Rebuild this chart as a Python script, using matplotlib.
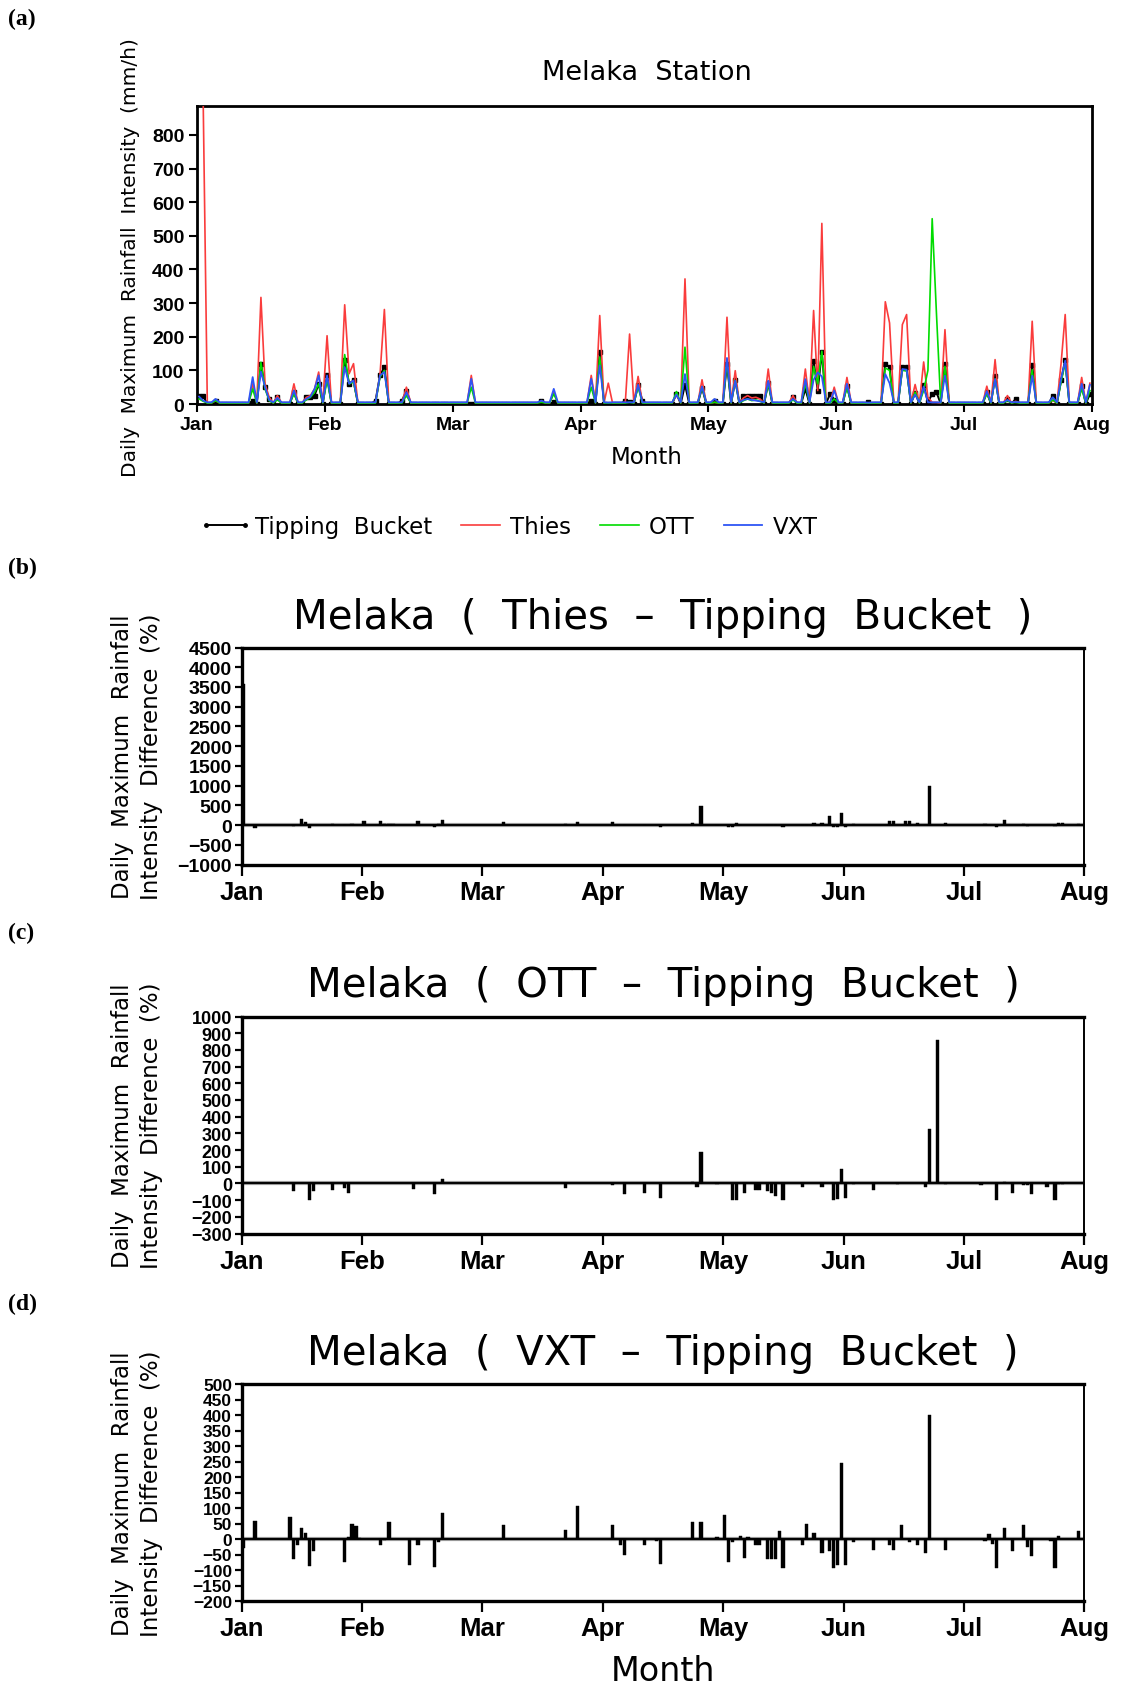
import matplotlib
matplotlib.use("Agg")
import matplotlib.pyplot as plt
import numpy as np
from matplotlib import font_manager
from matplotlib.lines import Line2D

FIG_W, FIG_H = 1123, 1690
DPI = 100

MONTH_LABELS = ["Jan", "Feb", "Mar", "Apr", "May", "Jun", "Jul", "Aug"]
MONTH_DAYS = [31, 29, 31, 30, 31, 30, 31]
N_DAYS = 213

# panel (a): daily maximum intensity (mm/h) on rain days
EVENT_DAYS = [0, 1, 4, 13, 15, 16, 17, 19, 23, 26, 27, 28, 29, 31, 35, 36, 37, 42, 43, 44,
              48, 49, 64, 81, 84, 93, 95, 97, 101, 102, 104, 105, 113, 115, 119, 122, 125,
              127, 129, 130, 131, 132, 133, 135, 141, 144, 146, 147, 148, 150, 151, 154, 159,
              163, 164, 167, 168, 170, 172, 173, 174, 175, 177, 187, 189, 192, 194, 198, 203,
              205, 206, 210, 212]
TB_EVENTS = [23, 23, 8, 10, 120, 50, 15, 22, 35, 20, 20, 25, 60, 85, 130, 60, 70, 10, 85, 110,
             10, 40, 0, 10, 5, 10, 155, 0, 10, 5, 57, 10, 30, 57, 48, 8, 120,
             72, 23, 23, 23, 23, 23, 62, 21, 45, 129, 40, 155, 30, 13, 55, 5,
             120, 109, 110, 110, 33, 57, 5, 30, 35, 119, 35, 84, 15, 15, 117, 25,
             70, 132, 55, 30]
THIES_EVENTS = [950, 900, 10, 60, 317, 60, 20, 25, 60, 20, 25, 45, 95, 203, 295, 90, 120, 5, 85, 281,
                5, 50, 85, 8, 35, 85, 263, 62, 5, 208, 82, 5, 30, 372, 72, 5, 258,
                99, 18, 25, 18, 20, 15, 104, 25, 104, 278, 40, 537, 5, 50, 79, 3,
                304, 241, 236, 266, 58, 125, 20, 5, 5, 221, 53, 132, 25, 8, 246, 10,
                120, 266, 79, 62]
OTT_EVENTS = [15, 8, 10, 45, 124, 45, 10, 12, 30, 12, 20, 35, 60, 70, 147, 60, 65, 3, 80, 100,
              3, 25, 50, 5, 30, 50, 140, 3, 3, 5, 50, 3, 37, 169, 50, 5, 125,
              70, 10, 15, 10, 12, 8, 60, 12, 60, 112, 60, 157, 3, 15, 48, 3,
              107, 100, 100, 98, 35, 40, 100, 551, 270, 112, 30, 75, 10, 5, 102, 12,
              65, 122, 45, 40]
VXT_EVENTS = [22, 10, 15, 80, 96, 50, 12, 18, 40, 15, 22, 45, 85, 85, 110, 60, 70, 5, 85, 95,
              5, 35, 75, 10, 45, 75, 115, 4, 5, 5, 57, 5, 28, 89, 52, 15, 137,
              69, 12, 15, 12, 10, 8, 69, 15, 74, 72, 94, 82, 5, 40, 60, 4,
              89, 62, 104, 102, 28, 52, 5, 5, 5, 84, 38, 74, 12, 6, 84, 20,
              74, 129, 60, 57]
TB_BASE, THIES_BASE, OTT_BASE, VXT_BASE = 1, 3, 3, 5

# panels (b)-(d): difference to tipping bucket (%)
THIES_DIFF_DAYS = [0, 3, 13, 15, 16, 17, 23, 26, 28, 29, 31, 35, 36, 37, 38, 44, 48, 49, 50, 65,
                   81, 84, 93, 94, 96, 101, 104, 105, 113, 115, 119, 122, 123, 124, 125, 132,
                   133, 134, 136, 141, 142, 144, 146, 148, 149, 150, 151, 152, 154, 163, 164,
                   167, 168, 170, 172, 173, 177, 187, 188, 190, 192, 197, 198, 205, 206, 207, 211]
THIES_DIFF = [3580, -65, -20, 160, 75, -75, 15, -10, 35, 10, 100, 100, 20, 20, 20, 100, -60, 20, 130, 70,
              15, 70, 70, 10, -10, -10, 10, -60, 40, 490, 5, -60, -55, 60, 10, -5,
              -5, -5, -60, 10, 5, 40, 40, 220, -60, -60, 312, -60, 20, 110, 110,
              110, 110, 40, -10, 995, 40, 20, -10, -60, 118, 20, -20, -30, 60, 60, 30]

OTT_DIFF_DAYS = [13, 17, 18, 23, 26, 27, 43, 48, 50, 81, 93, 96, 101, 105, 113, 114, 115, 119,
                 123, 124, 126, 129, 130, 132, 133, 134, 136, 141, 146, 149, 150, 151, 152, 154,
                 159, 165, 172, 173, 175, 177, 186, 190, 192, 194, 197, 198, 199, 203, 205, 206, 207]
OTT_DIFF = [-45, -99, -45, -37, -25, -55, -35, -65, 25, -30, -10, -65, -55, -85, 10, -20, 186, -5,
            -100, -100, -60, -40, -40, -45, -60, -75, -100, -20, -20, -100, -95, 89, -90, -5,
            -40, -5, -20, 325, 862, -5, -10, -100, 10, -55, -10, -10, -65, -20, -100, -5, -5]

VXT_DIFF_DAYS = [0, 3, 12, 13, 14, 15, 16, 17, 18, 26, 27, 28, 29, 30, 35, 36, 37, 42, 44, 48, 49,
                 50, 65, 81, 84, 93, 95, 96, 101, 104, 105, 113, 115, 119, 121, 122, 123, 125,
                 126, 127, 129, 130, 132, 133, 134, 135, 136, 141, 142, 144, 146, 148, 149, 150,
                 151, 152, 154, 159, 163, 164, 166, 168, 170, 172, 173, 177, 187, 188, 189, 190,
                 192, 194, 197, 198, 199, 204, 205, 206, 211]
VXT_DIFF = [-30, 59, 72, -65, -20, 35, 20, -87, -40, -75, 5, 48, 43, 2, -20, -3, 55, -85, -20, -90, -10,
            83, 45, 30, 107, 45, -20, -50, -20, -5, -80, 55, 55, 5, 78, -75, -10, 10,
            -60, 5, -20, -20, -65, -65, -65, 25, -95, -20, 50, 20, -45, -40, -95, -85,
            244, -85, -10, -35, -20, -35, 45, -10, -20, -45, 400, -35, -5, 15, -15, -95,
            35, -40, 45, -25, -55, -5, -95, 10, 25]

AVAILABLE = {f.name for f in font_manager.fontManager.ttflist}
if "Liberation Sans Narrow" in AVAILABLE:
    TICK_FONT, TICK_SCALE = "Liberation Sans Narrow", 1.25
else:
    TICK_FONT, TICK_SCALE = "Liberation Sans", 1.0

RED = "#fa3c3c"
GREEN = "#00dc00"
BLUE = "#2e55f5"

MONTH_STARTS = np.concatenate([[0], np.cumsum(MONTH_DAYS)])


def to_month(day):
    # months are drawn with equal widths on the original time axis
    return np.interp(day, MONTH_STARTS, np.arange(len(MONTH_STARTS)))


def px_axes(fig, left, top, right, bottom):
    return fig.add_axes([left / FIG_W, 1 - bottom / FIG_H, (right - left) / FIG_W, (bottom - top) / FIG_H])


def fig_text(fig, x, y, s, **kw):
    return fig.text(x / FIG_W, 1 - y / FIG_H, s, **kw)


def daily_series(values, base):
    series = np.full(N_DAYS, float(base))
    series[EVENT_DAYS] = values
    return series


def draw_line_panel(fig):
    ax = px_axes(fig, 197, 107, 1092, 405)
    x = to_month(np.arange(N_DAYS) + 0.5)
    ax.plot(x, daily_series(TB_EVENTS, TB_BASE), color="black", lw=1.4, marker="s", ms=2.4, zorder=2)
    ax.plot(x, daily_series(THIES_EVENTS, THIES_BASE), color=RED, lw=1.2, zorder=3)
    ax.plot(x, daily_series(OTT_EVENTS, OTT_BASE), color=GREEN, lw=1.2, zorder=4)
    ax.plot(x, daily_series(VXT_EVENTS, VXT_BASE), color=BLUE, lw=1.3, zorder=5)

    ax.set_xlim(0, 7)
    ax.set_ylim(0, 886)
    ax.set_xticks(range(8), MONTH_LABELS)
    ax.set_yticks(range(0, 801, 100))
    ax.tick_params(direction="out", length=6, width=1.5, pad=3)
    for label in ax.get_xticklabels() + ax.get_yticklabels():
        label.set_fontfamily(TICK_FONT)
        label.set_fontweight("bold")
        label.set_fontsize(14 * TICK_SCALE)
    for spine in ax.spines.values():
        spine.set_linewidth(2)

    fig_text(fig, 647, 73, "Melaka  Station", ha="center", va="center", fontsize=19.5)
    fig_text(fig, 647, 458, "Month", ha="center", va="center", fontsize=16.5)
    fig_text(fig, 130, 258, "Daily  Maximum  Rainfall  Intensity  (mm/h)", rotation=90,
             ha="center", va="center", fontsize=14.5)

    handles = [
        Line2D([], [], color="black", lw=1.4, marker="o", ms=2.5),
        Line2D([], [], color=RED, lw=1.2),
        Line2D([], [], color=GREEN, lw=1.2),
        Line2D([], [], color=BLUE, lw=1.3),
    ]
    fig.legend(handles, ["Tipping  Bucket", "Thies", "OTT", "VXT"], loc="center left",
               bbox_to_anchor=(199 / FIG_W, 1 - 528 / FIG_H), ncol=4, frameon=False,
               numpoints=2, handlelength=2.3, handletextpad=0.15, columnspacing=0.95,
               borderpad=0, borderaxespad=0, prop={"family": "DejaVu Sans", "size": 16.5})


def draw_diff_panel(fig, top, days, values, ylim, ystep, tick_size, title, month_label=False):
    bottom = top + 217
    ax = px_axes(fig, 241.7, top, 1084.3, bottom)
    days = np.asarray(days, dtype=float)
    left = to_month(days)
    width = to_month(days + 0.85) - left
    ax.bar(left, values, width=width, align="edge", color="black", edgecolor="black", lw=0.3, zorder=3)
    ax.axhline(0, color="black", lw=1.4, zorder=2)
    ax.axhline(0, color="0.6", lw=3.0, zorder=1)

    ax.set_xlim(0, 7)
    ax.set_ylim(*ylim)
    ax.set_xticks(range(8), MONTH_LABELS)
    ax.set_yticks(np.arange(ylim[0], ylim[1] + 1, ystep))
    ax.tick_params(axis="x", direction="out", length=8, width=1.6, pad=3)
    ax.tick_params(axis="y", direction="out", length=5, width=1.6, pad=2)
    for label in ax.get_xticklabels():
        label.set_fontfamily(TICK_FONT)
        label.set_fontweight("bold")
        label.set_fontsize(18.5 * TICK_SCALE)
    for label in ax.get_yticklabels():
        label.set_fontfamily(TICK_FONT)
        label.set_fontweight("bold")
        label.set_fontsize(tick_size * TICK_SCALE)
    for name in ("top", "bottom", "left"):
        ax.spines[name].set_linewidth(2.4)
    ax.spines["right"].set_linewidth(1.4)

    center = top + 217 / 2
    fig_text(fig, 663, top - 31, title, ha="center", va="center", fontsize=29)
    fig_text(fig, 137, center, "Daily  Maximum  Rainfall\nIntensity  Difference  (%)", rotation=90,
             ha="center", va="center", multialignment="center", fontsize=16.5, linespacing=1.3)
    if month_label:
        fig_text(fig, 663, bottom + 70, "Month", ha="center", va="center", fontsize=24)


def main():
    fig = plt.figure(figsize=(FIG_W / DPI, FIG_H / DPI), dpi=DPI)
    draw_line_panel(fig)
    draw_diff_panel(fig, 648.5, THIES_DIFF_DAYS, THIES_DIFF, (-1000, 4500), 500, 14,
                    "Melaka  (  Thies  –  Tipping  Bucket  )")
    draw_diff_panel(fig, 1017.5, OTT_DIFF_DAYS, OTT_DIFF, (-300, 1000), 100, 13,
                    "Melaka  (  OTT  –  Tipping  Bucket  )")
    draw_diff_panel(fig, 1385, VXT_DIFF_DAYS, VXT_DIFF, (-200, 500), 50, 12.5,
                    "Melaka  (  VXT  –  Tipping  Bucket  )", month_label=True)

    for label, y in (("(a)", 19), ("(b)", 568), ("(c)", 933), ("(d)", 1304)):
        fig_text(fig, 8, y, label, ha="left", va="center", fontsize=17,
                 fontweight="bold", fontfamily="Liberation Serif")

    fig.savefig("out.png", dpi=DPI)
    plt.close(fig)


if __name__ == "__main__":
    main()
